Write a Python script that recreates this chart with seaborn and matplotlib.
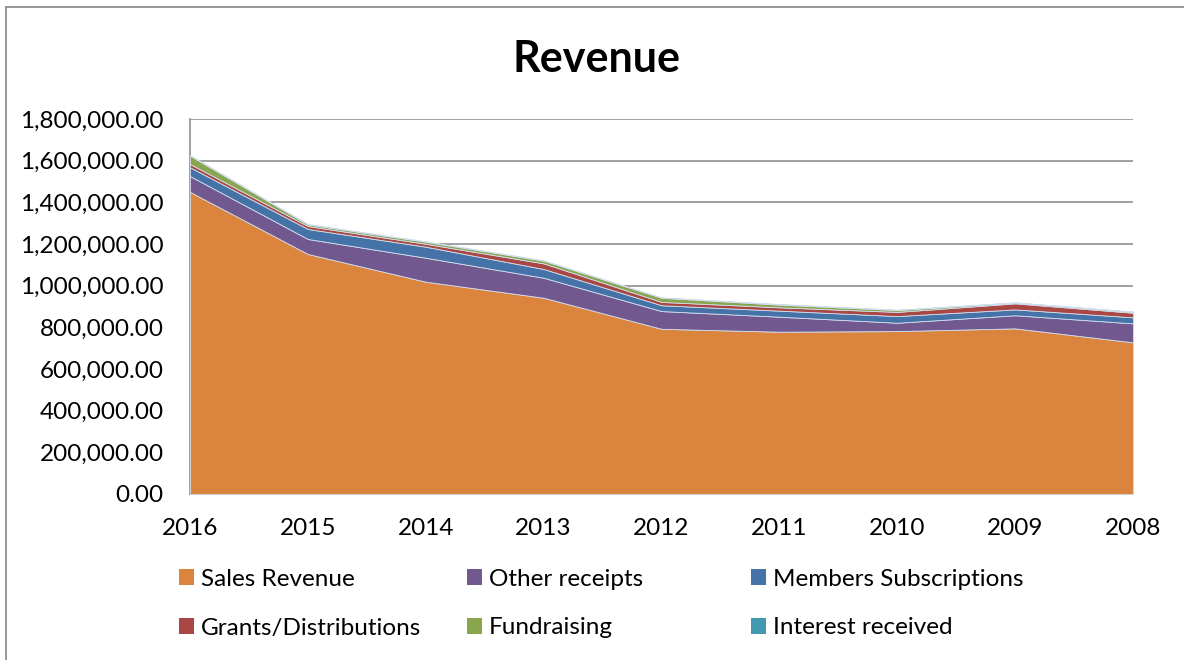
import matplotlib
matplotlib.use("Agg")
import matplotlib.pyplot as plt
import seaborn as sns
from matplotlib.lines import Line2D
from matplotlib.patches import Patch
from matplotlib.ticker import FuncFormatter, MultipleLocator

# DATA
years = ["2016", "2015", "2014", "2013", "2012", "2011", "2010", "2009", "2008"]
sales_revenue = [1450000, 1152000, 1019000, 942000, 793000, 779000, 782000, 795000, 728000]
other_receipts = [76000, 72000, 115000, 96000, 85000, 72000, 40000, 63000, 91000]
members_subscriptions = [42000, 48000, 53000, 42000, 28000, 29000, 32000, 28000, 29000]
grants_distributions = [16000, 14000, 14000, 27000, 16000, 16000, 20000, 29000, 22000]
fundraising = [40000, 8000, 10000, 13000, 20000, 13000, 9000, 4000, 5000]
interest_received = [3000, 2000, 2000, 2000, 2000, 3000, 2000, 1000, 1000]

series_names = ["Sales Revenue", "Other receipts", "Members Subscriptions",
                "Grants/Distributions", "Fundraising", "Interest received"]
colors = ["#DB843D", "#71588F", "#4572A7", "#AA4643", "#89A54E", "#4198AF"]

sns.set_style("white")
plt.rcParams["font.family"] = ["Lato", "DejaVu Sans"]
plt.rcParams["text.color"] = "black"

fig = plt.figure(figsize=(11.84, 6.6), dpi=100)
ax = fig.add_axes([190 / 1184, 1 - 494 / 660, (1133 - 190) / 1184, (494 - 119) / 660])

x = list(range(len(years)))
layers = [sales_revenue, other_receipts, members_subscriptions,
          grants_distributions, fundraising, interest_received]
polys = ax.stackplot(x, *layers, colors=colors, labels=series_names,
                     edgecolor="#d2deee", linewidth=0.6, zorder=3)

ax.set_xlim(0, len(years) - 1)
ax.set_ylim(0, 1800000)
ax.yaxis.set_major_locator(MultipleLocator(200000))
ax.yaxis.set_major_formatter(FuncFormatter(lambda v, p: f"{v:,.2f}"))
ax.set_xticks(x)
ax.set_xticklabels(years)
ax.grid(axis="y", color="#868686", linewidth=1.1, zorder=0)
ax.grid(axis="x", visible=False)
ax.tick_params(axis="y", length=0, pad=19, labelsize=17.5, labelcolor="black")
ax.tick_params(axis="x", length=0, pad=17, labelsize=17.5, labelcolor="black")

for side in ["top", "right"]:
    ax.spines[side].set_visible(False)
for side in ["left", "bottom"]:
    ax.spines[side].set_color("#868686")
    ax.spines[side].set_linewidth(1.1)

# title
fig.text(0.504, 0.911, "Revenue", ha="center", va="center",
         fontsize=31, fontweight="bold", color="black")

# legend, one entry per slot like the Excel layout
legend_x = [179 / 1184, 467 / 1184, 751 / 1184]
legend_y = [1 - 579 / 660, 1 - 628 / 660]
for i, (name, col) in enumerate(zip(series_names, colors)):
    row, column = divmod(i, 3)
    fig.legend(handles=[Patch(facecolor=col, edgecolor="none", label=name)],
               loc="center left", bbox_to_anchor=(legend_x[column], legend_y[row]),
               frameon=False, fontsize=17.5, handlelength=0.6, handleheight=0.6,
               handletextpad=0.3, borderpad=0, borderaxespad=0, labelcolor="black")

# chart-area border
fig.add_artist(Line2D([6 / 1184, 1], [1 - 7 / 660, 1 - 7 / 660],
                      transform=fig.transFigure, color="#868686", linewidth=1.2))
fig.add_artist(Line2D([6 / 1184, 6 / 1184], [0, 1 - 7 / 660],
                      transform=fig.transFigure, color="#868686", linewidth=1.2))

fig.savefig("out.png", dpi=100)
